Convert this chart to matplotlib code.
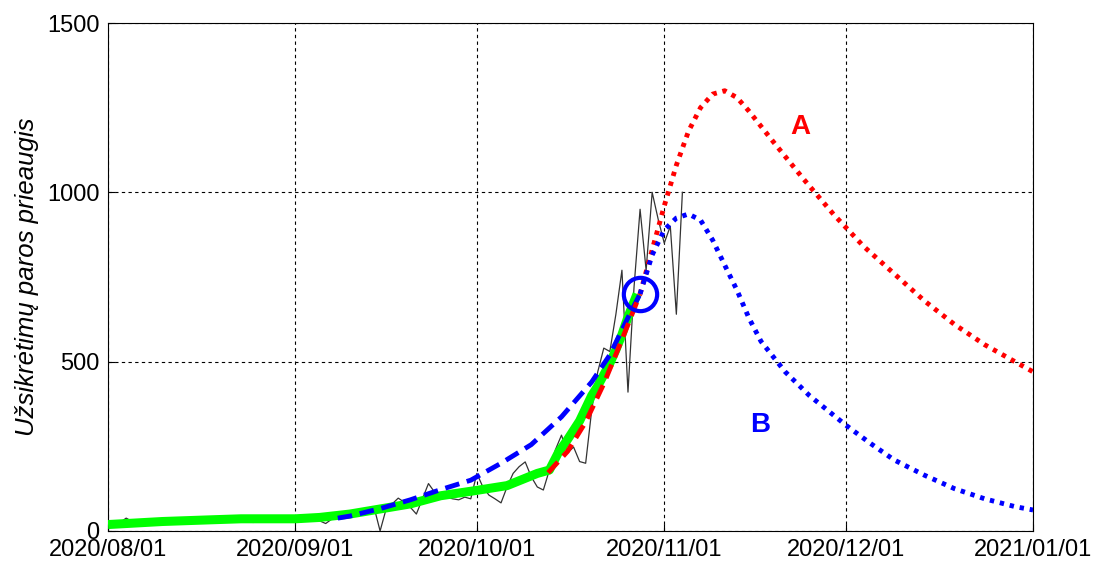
import numpy as np
import matplotlib
matplotlib.use('Agg')
import matplotlib.pyplot as plt
import matplotlib.dates as mdates

plt.rcParams['font.family'] = ['Liberation Sans', 'DejaVu Sans']

# daily new cases, starting 2020-08-01
start = np.datetime64('2020-08-01')
daily = [20, 22, 25, 38, 28, 25, 27, 30, 28, 30,
         31, 30, 32, 33, 34, 33, 35, 36, 38, 40,
         42, 40, 38, 36, 25, 35, 42, 45, 38, 36,
         35, 34, 36, 40, 38, 30, 22, 35, 40, 45,
         48, 52, 55, 62, 70, 0, 65, 80, 97, 85,
         70, 50, 95, 140, 115, 108, 100, 95, 92, 100,
         95, 170, 130, 106, 95, 83, 130, 170, 190, 204,
         160, 130, 121, 180, 240, 283, 230, 248, 205, 200,
         357, 470, 540, 530, 640, 770, 410, 720, 950, 770,
         1000, 920, 850, 900, 640, 1000]

# smoothed (green)
green_day = [0, 5, 9, 17, 22, 26, 31, 35, 40, 45, 50, 55, 61, 66, 71, 73, 74.5, 76, 78, 80, 81, 83, 84, 85, 86, 87.5]
green_val = [19, 24, 28, 33, 36, 36, 36, 40, 50, 65, 80, 104, 120, 134, 170, 180, 232, 270, 325, 400, 428, 495, 535, 580, 632, 700]

# model A (red)
red_dash_day = [72.8, 76, 79, 82, 85, 88]
red_dash_val = [172, 235, 322, 435, 565, 700]
red_dot_day = [88, 90, 92, 94, 96, 98, 100, 102, 104, 106, 110, 115, 120, 125, 130, 135, 140, 145, 150, 153]
red_dot_val = [700, 830, 960, 1080, 1180, 1250, 1290, 1300, 1280, 1240, 1150, 1040, 935, 840, 760, 680, 610, 550, 500, 470]

# model B (blue)
blue_dash_day = [38, 40, 45, 50, 55, 60, 65, 70, 75, 80, 83, 86, 88]
blue_dash_val = [38, 44, 66, 92, 122, 150, 200, 255, 337, 440, 520, 630, 700]
blue_dot_day = [88, 90, 92, 94, 96, 98, 100, 102, 104, 106, 108, 112, 116, 122, 126, 130, 135, 140, 145, 150, 153]
blue_dot_val = [700, 815, 889, 924, 936, 918, 859, 785, 712, 629, 560, 470, 400, 313, 260, 210, 165, 125, 95, 72, 62]

point_day, point_val = 88, 700


def to_dates(d):
    return start + np.round(np.array(d, dtype=float) * 24).astype(int).astype('timedelta64[h]')


fig = plt.figure(figsize=(10.99, 5.61), dpi=100)
ax = fig.add_axes([0.0983, 0.0535, 0.8417, 0.9055])

dates = start + np.arange(len(daily)).astype('timedelta64[D]')
ax.plot(dates, daily, color='0.2', lw=0.9, zorder=2)
ax.plot(to_dates(green_day), green_val, color=(0, 1, 0), lw=6.5, solid_capstyle='butt', zorder=3)
ax.plot(to_dates(blue_dash_day), blue_dash_val, color='blue', lw=3.5, dashes=(3, 1.6), zorder=4)
ax.plot(to_dates(red_dash_day), red_dash_val, color='red', lw=3.5, dashes=(3, 1.6), zorder=4)
ax.plot(to_dates(red_dot_day), red_dot_val, color='red', lw=3.5, dashes=(0.9, 1.2), zorder=4)
ax.plot(to_dates(blue_dot_day), blue_dot_val, color='blue', lw=3.5, dashes=(0.9, 1.2), zorder=4)
ax.plot(to_dates([point_day]), [point_val], 'o', ms=24, mfc='none', mec='blue', mew=3, zorder=5)

ax.text(to_dates([114.5])[0], 1193, 'A', color='red', fontsize=20, fontweight='bold', ha='center', va='center')
ax.text(to_dates([107.8])[0], 313, 'B', color='blue', fontsize=20, fontweight='bold', ha='center', va='center')

ax.set_xlim(np.datetime64('2020-08-01'), np.datetime64('2021-01-01'))
ax.set_ylim(0, 1500)
ax.set_yticks([0, 500, 1000, 1500])
ax.xaxis.set_major_locator(mdates.MonthLocator())
ax.xaxis.set_major_formatter(mdates.DateFormatter('%Y/%m/%d'))
ax.tick_params(direction='in', length=5, labelsize=17, pad=6)
ax.grid(True, color='black', linestyle=(0, (3, 3)), lw=0.8)
ax.set_ylabel('Užsikrėtimų paros prieaugis', fontsize=18.5, style='italic', labelpad=6)

fig.savefig('out.png', dpi=100)
